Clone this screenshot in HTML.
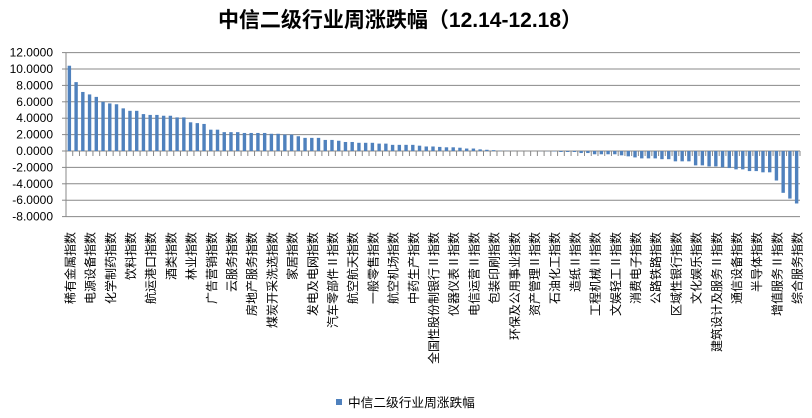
<!DOCTYPE html>
<html><head><meta charset="utf-8"><style>
html,body{margin:0;padding:0;background:#fff;width:812px;height:418px;overflow:hidden}
svg{display:block}
.yl{font-family:"Liberation Sans",sans-serif;font-size:12px;fill:#000}
.xl{font-family:"Liberation Sans","Noto Sans CJK SC",sans-serif;font-size:12px;fill:#000}
</style></head><body>
<svg id="c" width="812" height="418" xmlns="http://www.w3.org/2000/svg">
<rect width="812" height="418" fill="#fff"/>
<text x="400" y="27" text-anchor="middle" style="font-family:'Liberation Sans','Noto Sans CJK SC',sans-serif;font-size:21px;font-weight:bold">中信二级行业周涨跌幅（12.14-12.18）</text>
<g stroke="#888" stroke-width="1">
<line x1="66" y1="52.6" x2="800" y2="52.6"/>
<line x1="66" y1="69" x2="800" y2="69"/>
<line x1="66" y1="85.4" x2="800" y2="85.4"/>
<line x1="66" y1="101.8" x2="800" y2="101.8"/>
<line x1="66" y1="118.2" x2="800" y2="118.2"/>
<line x1="66" y1="134.6" x2="800" y2="134.6"/>
<line x1="66" y1="151" x2="800" y2="151"/>
<line x1="66" y1="167.4" x2="800" y2="167.4"/>
<line x1="66" y1="183.8" x2="800" y2="183.8"/>
<line x1="66" y1="200.2" x2="800" y2="200.2"/>
<line x1="66" y1="216.6" x2="800" y2="216.6"/>
<line x1="66" y1="52.6" x2="66" y2="216.6"/>
</g>
<g class="yl" text-anchor="end">
<text x="53" y="56.6">12.0000</text>
<text x="53" y="73">10.0000</text>
<text x="53" y="89.4">8.0000</text>
<text x="53" y="105.8">6.0000</text>
<text x="53" y="122.2">4.0000</text>
<text x="53" y="138.6">2.0000</text>
<text x="53" y="155">0.0000</text>
<text x="53" y="171.4">-2.0000</text>
<text x="53" y="187.8">-4.0000</text>
<text x="53" y="204.2">-6.0000</text>
<text x="53" y="220.6">-8.0000</text>
</g>
<g id="bars"></g>
<g class="xl" text-anchor="end">
<text transform="translate(74.4,232) rotate(-90)">稀有金属指数</text>
<text transform="translate(94.6,232) rotate(-90)">电源设备指数</text>
<text transform="translate(114.8,232) rotate(-90)">化学制药指数</text>
<text transform="translate(135,232) rotate(-90)">饮料指数</text>
<text transform="translate(155.2,232) rotate(-90)">航运港口指数</text>
<text transform="translate(175.4,232) rotate(-90)">酒类指数</text>
<text transform="translate(195.6,232) rotate(-90)">林业指数</text>
<text transform="translate(215.8,232) rotate(-90)">广告营销指数</text>
<text transform="translate(236,232) rotate(-90)">云服务指数</text>
<text transform="translate(256.2,232) rotate(-90)">房地产服务指数</text>
<text transform="translate(276.4,232) rotate(-90)">煤炭开采洗选指数</text>
<text transform="translate(296.6,232) rotate(-90)">家居指数</text>
<text transform="translate(316.8,232) rotate(-90)">发电及电网指数</text>
<text transform="translate(337,232) rotate(-90)">汽车零部件Ⅱ指数</text>
<text transform="translate(357.2,232) rotate(-90)">航空航天指数</text>
<text transform="translate(377.4,232) rotate(-90)">一般零售指数</text>
<text transform="translate(397.6,232) rotate(-90)">航空机场指数</text>
<text transform="translate(417.8,232) rotate(-90)">中药生产指数</text>
<text transform="translate(438,232) rotate(-90)">全国性股份制银行Ⅱ指数</text>
<text transform="translate(458.2,232) rotate(-90)">仪器仪表Ⅱ指数</text>
<text transform="translate(478.4,232) rotate(-90)">电信运营Ⅱ指数</text>
<text transform="translate(498.6,232) rotate(-90)">包装印刷指数</text>
<text transform="translate(518.8,232) rotate(-90)">环保及公用事业指数</text>
<text transform="translate(539,232) rotate(-90)">资产管理Ⅱ指数</text>
<text transform="translate(559.2,232) rotate(-90)">石油化工指数</text>
<text transform="translate(579.4,232) rotate(-90)">造纸Ⅱ指数</text>
<text transform="translate(599.6,232) rotate(-90)">工程机械Ⅱ指数</text>
<text transform="translate(619.8,232) rotate(-90)">文娱轻工Ⅱ指数</text>
<text transform="translate(640,232) rotate(-90)">消费电子指数</text>
<text transform="translate(660.2,232) rotate(-90)">公路铁路指数</text>
<text transform="translate(680.4,232) rotate(-90)">区域性银行指数</text>
<text transform="translate(700.6,232) rotate(-90)">文化娱乐指数</text>
<text transform="translate(720.8,232) rotate(-90)">建筑设计及服务Ⅱ指数</text>
<text transform="translate(741,232) rotate(-90)">通信设备指数</text>
<text transform="translate(761.2,232) rotate(-90)">半导体指数</text>
<text transform="translate(781.4,232) rotate(-90)">增值服务Ⅱ指数</text>
<text transform="translate(801.6,232) rotate(-90)">综合服务指数</text>
</g>
<rect x="336" y="399" width="6" height="6" fill="#4F81BD"/>
<text x="348" y="407" style="font-family:'Liberation Sans','Noto Sans CJK SC',sans-serif;font-size:12.7px">中信二级行业周涨跌幅</text>
</svg>
<script>
var v=[10.4,8.4,7.2,6.9,6.6,6.0,5.8,5.7,5.2,4.9,4.9,4.5,4.4,4.4,4.3,4.3,4.1,4.1,3.5,3.4,3.3,2.6,2.6,2.3,2.3,2.3,2.2,2.2,2.2,2.2,2.1,2.1,2.0,2.0,1.8,1.6,1.6,1.6,1.35,1.35,1.25,1.1,1.1,1.0,1.0,1.0,0.9,0.9,0.75,0.75,0.75,0.75,0.65,
0.55,0.55,0.5,0.45,0.45,0.4,0.3,0.3,0.2,0.15,0.1,
0.03,0.02,0.01,0,0,0,-0.01,-0.02,-0.05,
-0.12,-0.12,-0.12,-0.25,-0.25,-0.4,-0.4,-0.4,-0.4,-0.53,-0.65,-0.78,-0.9,-0.9,-0.9,-1.0,-1.0,-1.26,-1.26,-1.26,-1.75,-1.75,-1.88,-1.88,-2.0,-2.08,-2.24,-2.24,-2.45,-2.45,-2.6,-2.6,-3.6,-5.1,-5.8,-6.4];
var g=document.getElementById('bars'),ns='http://www.w3.org/2000/svg',st=734/109,h='';
for(var i=0;i<v.length;i++){var cx=66+st*(i+0.5),y=151-v[i]*8.2;var t=Math.min(y,151),hh=Math.abs(151-y);
if(hh>0)h+='<rect x="'+(cx-1.7).toFixed(2)+'" y="'+t.toFixed(2)+'" width="3.4" height="'+hh.toFixed(2)+'" fill="#4F81BD"/>';}
for(var i=0;i<=109;i++){var x=(66+st*i).toFixed(2);h+='<line x1="'+x+'" y1="151" x2="'+x+'" y2="156" stroke="#888" stroke-width="1"/>';}
for(var k=0;k<=10;k++){var y=(52.6+16.4*k).toFixed(1);h+='<line x1="62" y1="'+y+'" x2="66" y2="'+y+'" stroke="#888" stroke-width="1"/>';}
g.innerHTML=h;
</script>
</body></html>
